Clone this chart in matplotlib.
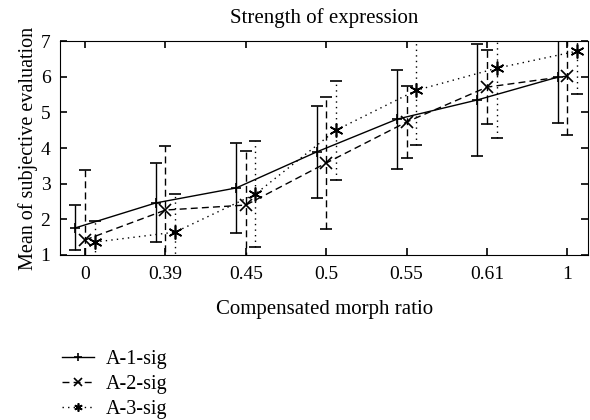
import matplotlib
matplotlib.use('Agg')
import matplotlib.pyplot as plt
from matplotlib.lines import Line2D
import numpy as np

plt.rcParams['font.family'] = ['Liberation Serif', 'DejaVu Serif']
plt.rcParams['font.size'] = 14

ratios = ['0', '0.39', '0.45', '0.5', '0.55', '0.61', '1']

a1_mean = [1.76, 2.46, 2.88, 3.89, 4.81, 5.35, 5.99]
a1_sd = [0.63, 1.11, 1.26, 1.30, 1.39, 1.57, 1.30]
a2_mean = [1.42, 2.26, 2.40, 3.58, 4.73, 5.71, 6.02]
a2_sd = [1.96, 1.80, 1.52, 1.84, 1.01, 1.03, 1.66]
a3_mean = [1.36, 1.64, 2.71, 4.50, 5.62, 6.24, 6.72]
a3_sd = [0.59, 1.07, 1.50, 1.39, 1.54, 1.96, 1.21]

series = [
    ('A-1-sig', a1_mean, a1_sd, -0.12, '-', '+', 7),
    ('A-2-sig', a2_mean, a2_sd, 0.0, (0, (5, 3)), 'x', 8),
    ('A-3-sig', a3_mean, a3_sd, 0.12, (0, (1, 3)), (6, 2, 0), 10),
]

fig = plt.figure(figsize=(5.9, 4.2), dpi=100)
ax = fig.add_axes([0.102, 0.393, 0.895, 0.509])
x = np.arange(len(ratios))

for name, m, sd, off, ls, mk, ms in series:
    eb = ax.errorbar(x + off, m, yerr=sd, color='black', linestyle=ls, linewidth=1,
                     marker=mk, markersize=ms, markeredgewidth=1.2,
                     capsize=4, elinewidth=1, capthick=1, label=name)
    for lc in eb[2]:
        lc.set_linestyle(ls)

ax.set_xlim(-0.31, 6.26)
ax.set_ylim(1, 7)
ax.set_xticks(x)
ax.set_xticklabels(ratios)
ax.set_yticks(range(1, 8))
ax.tick_params(direction='in', top=True, right=True, length=5, width=1.2, labelsize=14)
ax.tick_params(axis='x', pad=8)
ax.tick_params(axis='y', pad=7)
ax.set_title('Strength of expression', fontsize=15, pad=13)
ax.set_xlabel('Compensated morph ratio', fontsize=15, labelpad=12)
ax.set_ylabel('Mean of subjective evaluation', fontsize=14.5, labelpad=2)

# legend under the plot, small markers
leg_handles = [Line2D([], [], color='black', linestyle=s[4], linewidth=1,
                      marker=s[5], markersize=6, markeredgewidth=1.2) for s in series]
fig.legend(leg_handles, [s[0] for s in series], loc='upper left',
           bbox_to_anchor=(0.088, 0.19), frameon=False, handlelength=1.6,
           handletextpad=0.6, labelspacing=0.28, borderpad=0, fontsize=14.5)

fig.savefig('out.png', dpi=100)
